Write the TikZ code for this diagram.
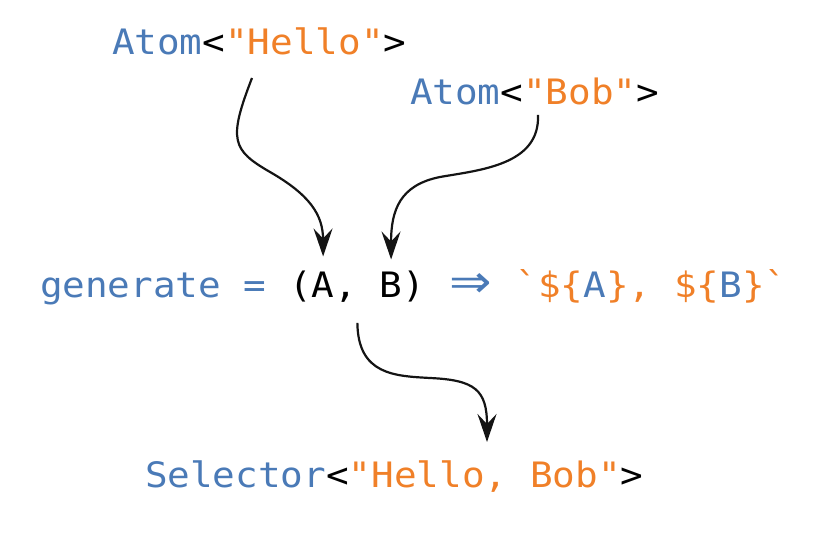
\documentclass[tikz,border=0pt]{standalone}
\usepackage{fontspec}
\usepackage{graphicx}
\usetikzlibrary{arrows.meta}
\setmonofont[FakeStretch=1.075]{DejaVu Sans Mono}
\newfontfamily\symfont{DejaVu Sans}
\definecolor{kwblue}{RGB}{74,122,183}
\definecolor{strorange}{RGB}{240,128,40}
\newcommand\KB[1]{\textcolor{kwblue}{#1}}
\newcommand\SO[1]{\textcolor{strorange}{#1}}
\newcommand\fatarrow{\makebox[1.294em]{\scalebox{1.45}[1.3]{\symfont ⇒}}}
\begin{document}
\begin{tikzpicture}[x=1pt,y=-1pt,
  code/.style={inner sep=0pt, outer sep=0pt, anchor=base west,
    font=\ttfamily\fontsize{35}{42}\selectfont},
  arr/.style={line width=2.2pt, draw=black!92,
    -{Stealth[length=28pt,width=19pt,inset=10pt]}}]
\useasboundingbox (0,0) rectangle (835,537);
% texts
\node[code] (hello) at (112,55) {\KB{Atom}<\SO{"Hello"}>};
\node[code] (bob) at (410,105) {\KB{Atom}<\SO{"Bob"}>};
\node[code] (lhs) at (40,298) {\KB{generate =} (};
\node[code] (A) at (lhs.base east) {A};
\node[code] (mid) at (A.base east) {,\hphantom{A}};
\node[code] (B) at (mid.base east) {B};
\node[code] (rhs) at (B.base east) {)\hphantom{A}\KB{\fatarrow}\hphantom{A}\SO{`\$\{}\KB{A}\SO{\},\hphantom{A}\$\{}\KB{B}\SO{\}`}};
\node[code] (sel) at (145,487) {\KB{Selector}<\SO{"Hello, Bob"}>};
% connectors
\coordinate (s1) at (252,78);
\coordinate (s2) at (538,115);
\coordinate (t3) at (487,442);
\draw[arr, shorten >=16pt] (s1) .. controls (228,140) and (232,150) .. (270,172)
  .. controls (310,195) and (323,215) .. (A.north);
\draw[arr, shorten >=13pt] (s2) .. controls (540,165) and (480,170) .. (440,177)
  .. controls (400,185) and (391,210) .. (B.north);
\draw[arr, shorten <=20pt] (mid.south) .. controls (358,375) and (395,376) .. (430,378)
  .. controls (475,380) and (487,390) .. (t3);
\end{tikzpicture}
\end{document}
